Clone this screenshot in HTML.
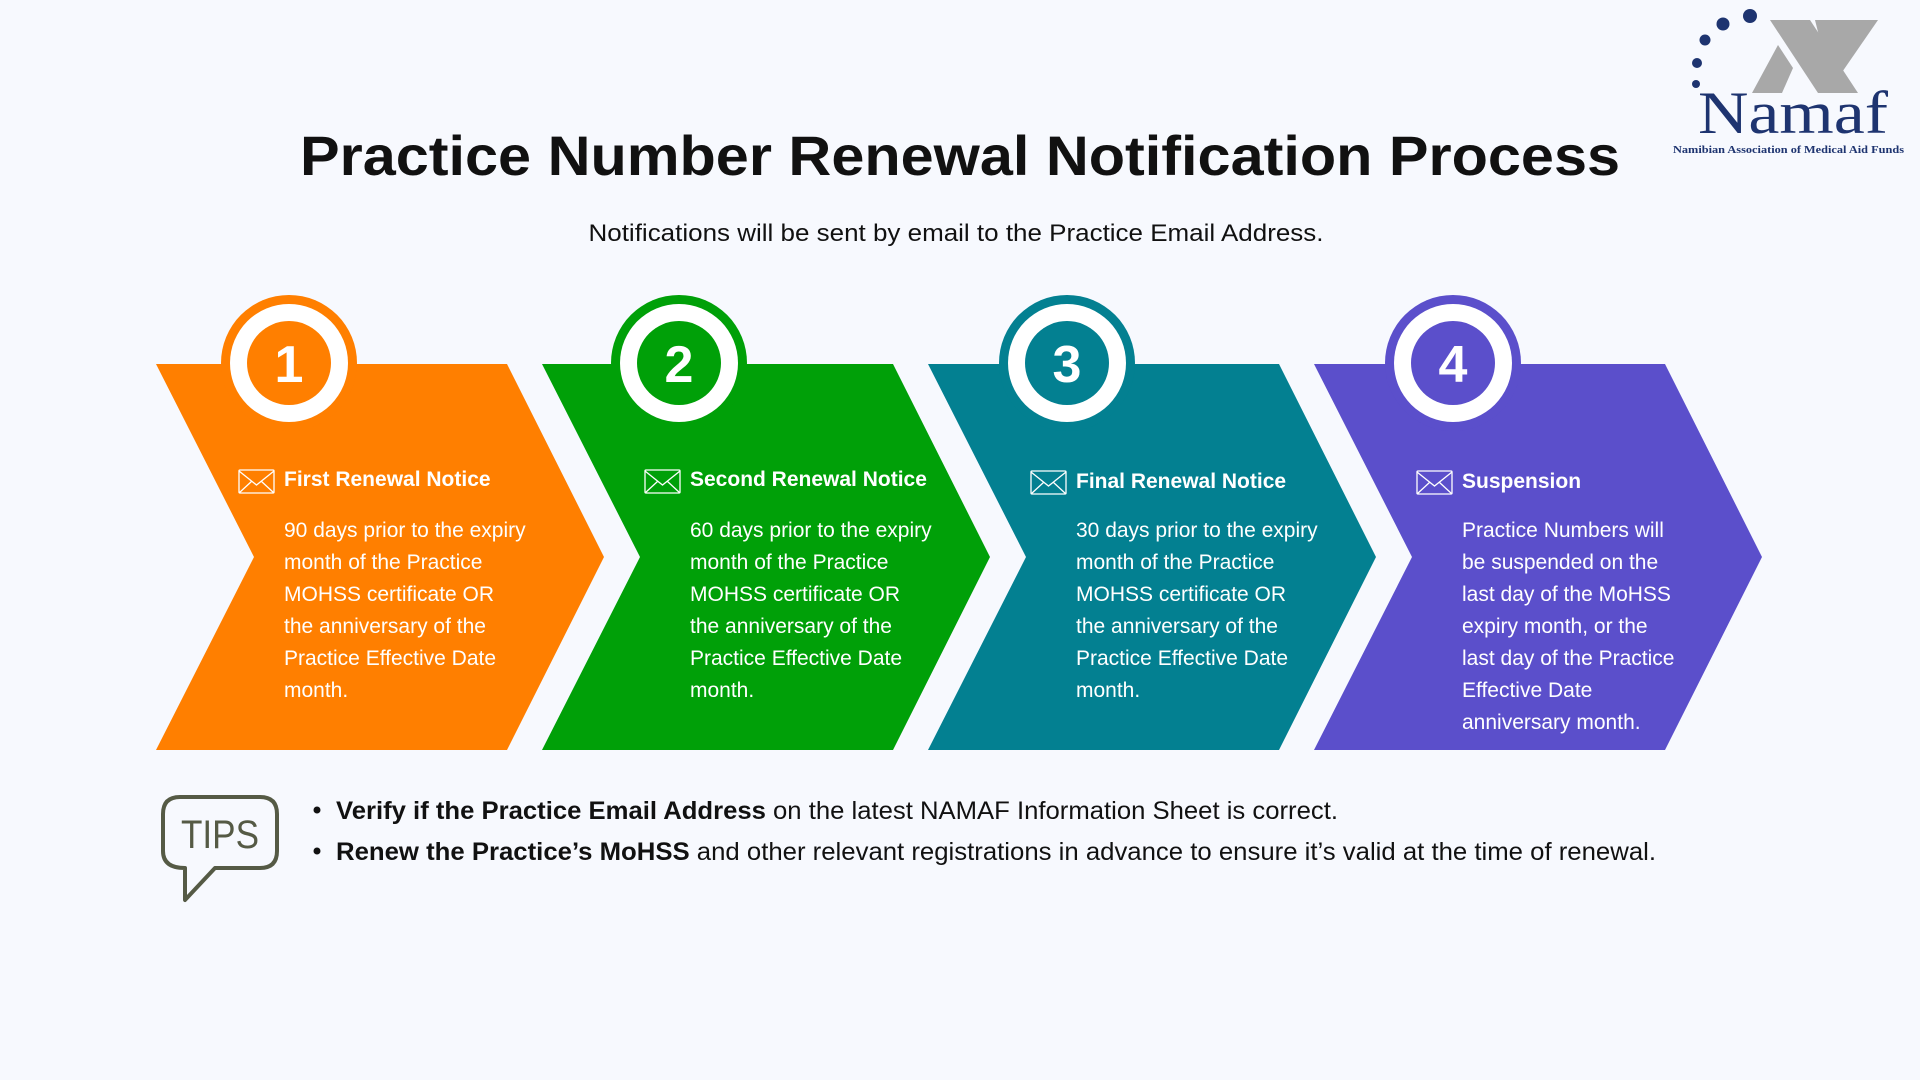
<!DOCTYPE html>
<html><head><meta charset="utf-8"><style>
html,body{margin:0;padding:0;background:#F7F9FE;}
svg{display:block;}
</style></head><body>
<svg width="1920" height="1080" viewBox="0 0 1920 1080" xmlns="http://www.w3.org/2000/svg" font-family="Liberation Sans, sans-serif">
<rect width="1920" height="1080" fill="#F7F9FE"/>
<text x="960" y="175" text-anchor="middle" font-size="56" font-weight="bold" fill="#111" textLength="1320" lengthAdjust="spacingAndGlyphs">Practice Number Renewal Notification Process</text>
<text x="956" y="241" text-anchor="middle" font-size="24" fill="#111" textLength="735" lengthAdjust="spacingAndGlyphs">Notifications will be sent by email to the Practice Email Address.</text>

<g fill="#1E3470">
<circle cx="1750" cy="16" r="7"/><circle cx="1723" cy="24" r="6.5"/><circle cx="1705" cy="40" r="5.5"/><circle cx="1697" cy="63" r="5"/><circle cx="1696" cy="84" r="4"/>
</g>
<polygon points="1770,20 1810,20 1858,93 1818,93" fill="#A8A8A8"/>
<polygon points="1815,20 1878,20 1838,78 1825,60" fill="#A8A8A8"/>
<polygon points="1752,93 1778,45 1793,68 1782,93" fill="#A8A8A8"/>
<text x="1698" y="133" font-family="Liberation Serif, serif" font-size="60" fill="#1E3470" textLength="190" lengthAdjust="spacingAndGlyphs">Namaf</text>
<text x="1673" y="153" font-family="Liberation Serif, serif" font-size="11" font-weight="bold" fill="#1E3470" textLength="231" lengthAdjust="spacingAndGlyphs">Namibian Association of Medical Aid Funds</text>

<polygon points="156,364 507,364 604,557 507,750 156,750 254,557" fill="#FF7F00"/>
<polygon points="542,364 893,364 990,557 893,750 542,750 640,557" fill="#00A008"/>
<polygon points="928,364 1279,364 1376,557 1279,750 928,750 1026,557" fill="#038091"/>
<polygon points="1314,364 1665,364 1762,557 1665,750 1314,750 1412,557" fill="#5B4FCB"/>

<g font-size="52" font-weight="bold" fill="#fff" text-anchor="middle">
<circle cx="289" cy="363" r="68" fill="#FF7F00"/><circle cx="289" cy="363" r="59" fill="#fff"/><circle cx="289" cy="363" r="42" fill="#FF7F00"/><text x="289" y="382">1</text>
<circle cx="679" cy="363" r="68" fill="#00A008"/><circle cx="679" cy="363" r="59" fill="#fff"/><circle cx="679" cy="363" r="42" fill="#00A008"/><text x="679" y="382">2</text>
<circle cx="1067" cy="363" r="68" fill="#038091"/><circle cx="1067" cy="363" r="59" fill="#fff"/><circle cx="1067" cy="363" r="42" fill="#038091"/><text x="1067" y="382">3</text>
<circle cx="1453" cy="363" r="68" fill="#5B4FCB"/><circle cx="1453" cy="363" r="59" fill="#fff"/><circle cx="1453" cy="363" r="42" fill="#5B4FCB"/><text x="1453" y="382">4</text>
</g>

<g fill="none" stroke="#fff" stroke-width="1.3">
<g transform="translate(239,470)"><rect x="0" y="0" width="35" height="23" rx="1"/><path d="M0,1 L17.5,15 L35,1 M0,23 L13,11 M35,23 L22,11"/></g>
<g transform="translate(645,470)"><rect x="0" y="0" width="35" height="23" rx="1"/><path d="M0,1 L17.5,15 L35,1 M0,23 L13,11 M35,23 L22,11"/></g>
<g transform="translate(1031,471)"><rect x="0" y="0" width="35" height="23" rx="1"/><path d="M0,1 L17.5,15 L35,1 M0,23 L13,11 M35,23 L22,11"/></g>
<g transform="translate(1417,471)"><rect x="0" y="0" width="35" height="23" rx="1"/><path d="M0,1 L17.5,15 L35,1 M0,23 L13,11 M35,23 L22,11"/></g>
</g>

<g fill="#fff">
<g font-size="21" font-weight="bold">
<text x="284" y="486">First Renewal Notice</text>
<text x="690" y="486">Second Renewal Notice</text>
<text x="1076" y="488">Final Renewal Notice</text>
<text x="1462" y="488">Suspension</text>
</g>
<g font-size="21">
<text x="284" y="537">90 days prior to the expiry</text>
<text x="284" y="569">month of the Practice</text>
<text x="284" y="601">MOHSS certificate OR</text>
<text x="284" y="633">the anniversary of the</text>
<text x="284" y="665">Practice Effective Date</text>
<text x="284" y="697">month.</text>

<text x="690" y="537">60 days prior to the expiry</text>
<text x="690" y="569">month of the Practice</text>
<text x="690" y="601">MOHSS certificate OR</text>
<text x="690" y="633">the anniversary of the</text>
<text x="690" y="665">Practice Effective Date</text>
<text x="690" y="697">month.</text>

<text x="1076" y="537">30 days prior to the expiry</text>
<text x="1076" y="569">month of the Practice</text>
<text x="1076" y="601">MOHSS certificate OR</text>
<text x="1076" y="633">the anniversary of the</text>
<text x="1076" y="665">Practice Effective Date</text>
<text x="1076" y="697">month.</text>

<text x="1462" y="537">Practice Numbers will</text>
<text x="1462" y="569">be suspended on the</text>
<text x="1462" y="601">last day of the MoHSS</text>
<text x="1462" y="633">expiry month, or the</text>
<text x="1462" y="665">last day of the Practice</text>
<text x="1462" y="697">Effective Date</text>
<text x="1462" y="729">anniversary month.</text>
</g>
</g>

<path d="M180,797 L260,797 Q277,797 277,814 L277,851 Q277,868 260,868 L215,868 L185,900 L185,868 Q163,868 163,851 L163,814 Q163,797 180,797 Z" fill="none" stroke="#555A45" stroke-width="4" stroke-linejoin="round"/>
<text x="220" y="848" text-anchor="middle" font-size="40" fill="#555A45" textLength="78" lengthAdjust="spacingAndGlyphs">TIPS</text>
<g font-size="25" fill="#111">
<circle cx="317" cy="810" r="3.5"/><circle cx="317" cy="851" r="3.5"/>
<text x="336" y="819" textLength="1002" lengthAdjust="spacingAndGlyphs"><tspan font-weight="bold">Verify if the Practice Email Address</tspan> on the latest NAMAF Information Sheet is correct.</text>
<text x="336" y="860" textLength="1320" lengthAdjust="spacingAndGlyphs"><tspan font-weight="bold">Renew the Practice’s MoHSS</tspan> and other relevant registrations in advance to ensure it’s valid at the time of renewal.</text>
</g>
</svg>
</body></html>
